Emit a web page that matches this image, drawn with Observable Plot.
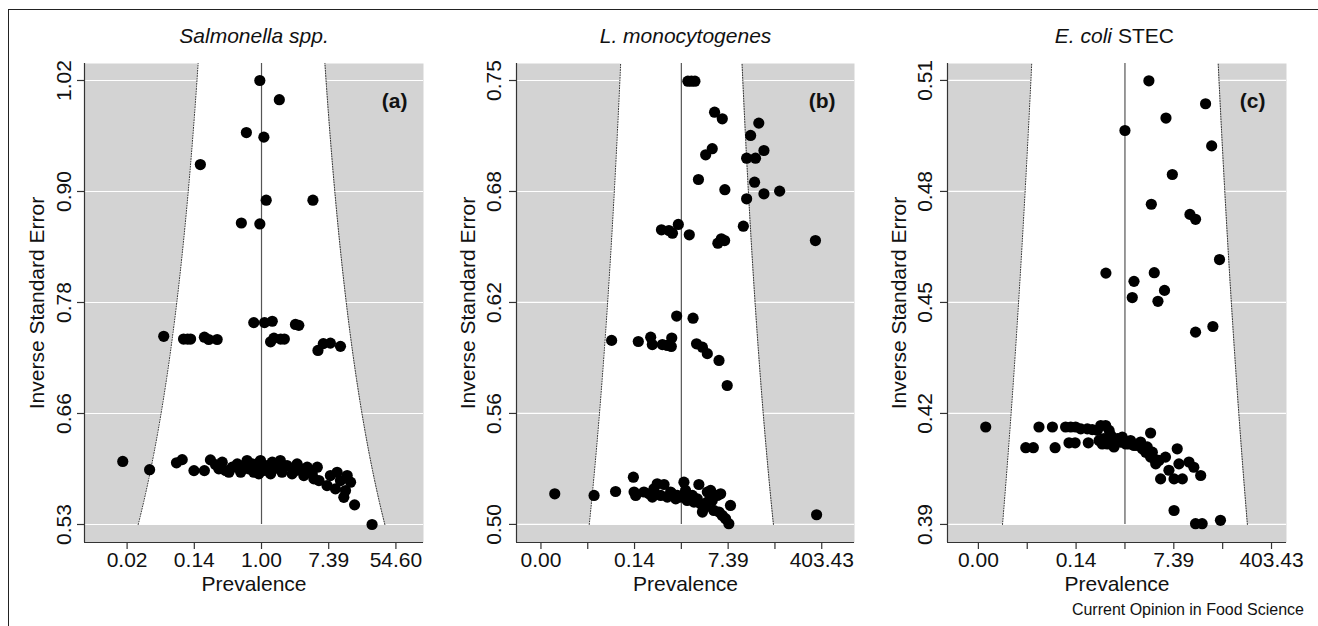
<!DOCTYPE html>
<html><head><meta charset="utf-8">
<script src="https://cdn.jsdelivr.net/npm/d3@7"></script>
<script src="https://cdn.jsdelivr.net/npm/@observablehq/plot@0.6"></script>
<style>
html,body{margin:0;padding:0;background:#fff;font-family:"Liberation Sans",Arial,sans-serif;overflow:hidden;}
#wrap{position:relative;width:1318px;height:626px;overflow:hidden;}
#border{position:absolute;left:8px;top:9px;width:1310px;height:617px;box-sizing:border-box;border-top:1.5px solid #222;border-left:1.5px solid #222;}
.panel{position:absolute;top:0;}
.panel svg{overflow:visible;}
#caption{position:absolute;right:14px;top:601px;font-size:16px;color:#111;white-space:nowrap;}
</style></head>
<body><div id="wrap"><div id="border"></div>
<div class="panel" id="pa" style="left:0px"></div>
<div class="panel" id="pb" style="left:430px"></div>
<div class="panel" id="pc" style="left:870px"></div>
<div id="caption">Current Opinion in Food Science</div></div>
<script>
// ---------- data: log(prevalence) and inverse standard error ----------
const salmonellaLogPrev = [-0.05,0.53,-0.45,0.07,-1.82,0.14,1.53,-0.60,-0.05,
 -2.91,-2.32,-2.20,-2.11,-1.70,-1.57,-1.32,-0.23,0.09,0.32,1.01,1.11,0.27,0.37,0.57,0.68,1.68,1.84,2.05,2.35,
 -4.13,-3.33,-2.53,-2.36,-2.01,-1.70,
 -1.52,-1.37,-1.17,-1.07,-0.87,-0.72,-0.62,-0.43,-0.38,-0.23,-0.13,-0.03,0.07,0.17,0.32,0.47,0.56,0.61,0.76,0.91,1.06,1.16,1.26,1.41,1.56,1.66,1.71,
 2.05,1.95,2.25,2.35,2.55,2.65,2.50,2.20,2.45,2.77,3.29,
 -1.27,-0.97,-0.53,-0.28,-0.08,0.27,0.37,1.01,1.36,1.51];
const salmonellaInvSE = [1.020,0.999,0.963,0.958,0.928,0.889,0.889,0.864,0.863,
 0.740,0.737,0.737,0.737,0.739,0.7365,0.7365,0.755,0.755,0.7565,0.753,0.752,0.734,0.738,0.737,0.737,0.7245,0.732,0.7325,0.729,
 0.603,0.594,0.6015,0.605,0.593,0.593,
 0.6047,0.5996,0.6022,0.5931,0.5967,0.6003,0.5912,0.6040,0.5949,0.5912,0.6003,0.6040,0.5931,0.5985,0.6022,0.5967,0.6040,0.5912,0.5985,0.5894,0.6003,0.5949,0.5876,0.5912,0.5839,0.5967,0.5821,
 0.5876,0.5766,0.5912,0.5821,0.5876,0.5803,0.5712,0.5730,0.5638,0.5555,0.534,
 0.5949,0.5912,0.5985,0.6003,0.5894,0.5894,0.5949,0.5931,0.5967,0.5894];

const listeriaLogPrev = [0.28,0.43,0.58,1.42,1.75,3.31,2.96,1.32,1.04,3.53,2.79,3.17,0.73,1.86,3.13,3.53,4.20,2.79,2.65,-0.85,-0.53,-0.38,-0.13,0.34,1.56,1.71,1.85,5.73,
 -0.20,0.50,-2.98,-1.84,-1.31,-1.24,-0.81,-0.60,-0.43,-0.41,0.65,0.90,1.11,1.61,1.96,
 -5.41,-3.73,-2.81,-2.05,-2.02,-1.95,-1.38,-1.17,-1.03,-0.74,-1.24,-0.88,-0.60,-0.39,-0.24,-0.03,0.11,0.18,0.25,0.47,0.54,0.75,0.82,0.90,1.04,1.11,1.25,1.39,1.54,1.61,1.68,1.75,1.89,2.03,2.10,5.78,
 -1.60,-0.46,-0.17,0.33,0.68,1.11,1.32];
const listeriaInvSE = [0.7456,0.7456,0.7456,0.7283,0.7246,0.7222,0.7153,0.7079,0.7045,0.7069,0.7026,0.7026,0.6907,0.6850,0.6892,0.6827,0.6842,0.6799,0.6646,0.6626,0.6622,0.6607,0.6656,0.6598,0.6551,0.6576,0.6566,0.6566,
 0.6144,0.6132,0.6008,0.6002,0.6026,0.5985,0.5985,0.5980,0.5974,0.6021,0.5989,0.5970,0.5934,0.5896,0.5756,
 0.5151,0.5142,0.5164,0.5244,0.5161,0.5142,0.5151,0.5179,0.5207,0.5203,0.5133,0.5142,0.5133,0.5151,0.5123,0.5133,0.5216,0.5170,0.5114,0.5142,0.5105,0.5203,0.5095,0.5049,0.5077,0.5161,0.5170,0.5058,0.5142,0.5049,0.5151,0.5030,0.5012,0.4984,0.5086,0.5034,
 0.5161,0.5161,0.5142,0.5133,0.5123,0.5105,0.5114];

const ecoliLogPrev = [0.98,3.30,1.68,0.00,3.55,1.94,1.08,2.66,2.89,3.87,-0.78,1.20,0.37,1.62,0.30,1.35,2.89,3.60,
 -5.70,-4.06,-3.75,-3.52,-2.97,-2.86,-2.43,-2.22,-2.02,-1.81,-1.54,-1.34,-1.13,-0.99,-0.79,-0.65,-2.29,-2.04,-1.50,-1.06,-0.93,-0.72,-0.58,-0.45,-0.31,-0.11,0.03,0.17,0.37,0.51,0.64,0.71,0.85,0.98,1.12,1.19,1.26,1.39,1.05,1.66,1.80,2.14,2.21,2.62,2.82,3.10,1.46,2.01,2.35,2.01,2.89,3.16,3.91,
 -0.86,-0.52,-0.18,0.23,0.91,1.05];
const ecoliInvSE = [0.5089,0.5028,0.4990,0.4957,0.4916,0.4840,0.4761,0.4734,0.4721,0.4614,0.4578,0.4579,0.4556,0.4532,0.4513,0.4503,0.4421,0.4436,
 0.4169,0.4114,0.4114,0.4169,0.4169,0.4114,0.4169,0.4169,0.4169,0.4164,0.4164,0.4162,0.4160,0.4173,0.4173,0.4160,0.4127,0.4127,0.4127,0.4133,0.4124,0.4124,0.4147,0.4116,0.4138,0.4142,0.4124,0.4124,0.4120,0.4120,0.4129,0.4111,0.4102,0.4098,0.4102,0.4085,0.4071,0.4080,0.4153,0.4089,0.4054,0.4111,0.4071,0.4076,0.4062,0.4040,0.4031,0.4031,0.4031,0.3947,0.3912,0.3912,0.3921,
 0.4138,0.4129,0.4129,0.4133,0.4116,0.4089];

// pooled estimates (log scale)
const pooledEstimates = [0, 0, 0];

// axis ticks (log prevalence) and labels
const xTicksA = [-4, -2, 0, 2, 4];
const xLabelsA = ["0.02", "0.14", "1.00", "7.39", "54.60"];
const xTicksBC = [-6, -4, -2, 0, 2, 4, 6];
const xLabelsBC = ["0.00", "", "0.14", "", "7.39", "", "403.43"];
const yTicksA = [0.534, 0.6555, 0.777, 0.8985, 1.020];
const yLabelsA = ["0.53", "0.66", "0.78", "0.90", "1.02"];
const yTicksB = [0.498, 0.560, 0.622, 0.684, 0.746];
const yLabelsB = ["0.50", "0.56", "0.62", "0.68", "0.75"];
const yTicksC = [0.391, 0.4205, 0.450, 0.4795, 0.509];
const yLabelsC = ["0.39", "0.42", "0.45", "0.48", "0.51"];

const xLims = [[-5.268, 4.821], [-7.045, 7.40], [-7.264, 6.613]];
const yLims = [[0.5143, 1.0386], [0.4879, 0.7555], [0.3862, 0.5135]];

const FONT = "Liberation Sans, Arial, Helvetica, sans-serif";
const H = 626, MT = 63, MB = 84;

function panel(cfg) {
  const {el, width, ml, mr, k, xs, ys, xTicks, xLabels, yTicks, yLabels, letter, letterDx, yTickDx, yTitleDx, titleMarks} = cfg;
  const xDomain = xLims[k], yDomain = yLims[k], c = pooledEstimates[k];
  const frameW = width - ml - mr, frameH = H - MT - MB;
  const ylo = yTicks[0], ytop = yDomain[1];
  const funnel = d3.range(61).map(i => {
    const y = ylo + (ytop - ylo) * i / 60;
    return {y, lo: c - 1.96 / y, hi: c + 1.96 / y};
  });
  const pts = xs.map((x, i) => ({x, y: ys[i]}));
  const chart = Plot.plot({
    width, height: H, marginLeft: ml, marginRight: mr, marginTop: MT, marginBottom: MB,
    x: {domain: xDomain, axis: null},
    y: {domain: yDomain, axis: null},
    style: {fontFamily: FONT, fontSize: "21px", background: "transparent", overflow: "visible", color: "#111"},
    marks: [
      Plot.frame({fill: "#d3d3d3", stroke: "none"}),
      Plot.ruleY(yTicks, {stroke: "white", strokeWidth: 1.2}),
      Plot.areaX(funnel, {y: "y", x1: "lo", x2: "hi", fill: "white"}),
      Plot.line(funnel, {x: "lo", y: "y", stroke: "#333", strokeWidth: 1, strokeDasharray: "1,1.6"}),
      Plot.line(funnel, {x: "hi", y: "y", stroke: "#333", strokeWidth: 1, strokeDasharray: "1,1.6"}),
      Plot.ruleX([c], {y1: ylo, y2: ytop, stroke: "#555", strokeWidth: 1.2}),
      Plot.dot(pts, {x: "x", y: "y", r: 5.6, fill: "black", stroke: "none"}),
      Plot.ruleX([xDomain[0]], {stroke: "#333", strokeWidth: 1.2}),
      Plot.ruleY([yDomain[0]], {stroke: "#333", strokeWidth: 1.2}),
      Plot.tickY(yTicks, {insetLeft: -7, insetRight: frameW, stroke: "#333", strokeWidth: 1.2}),
      Plot.tickX(xTicks, {insetTop: frameH, insetBottom: -7, stroke: "#333", strokeWidth: 1.2}),
      Plot.text(yTicks, {y: d => d, text: (d, i) => yLabels[i], frameAnchor: "left", rotate: -90, dx: yTickDx, textAnchor: "middle", lineAnchor: "bottom", fontSize: 21}),
      Plot.text(xTicks, {x: d => d, text: (d, i) => xLabels[i], frameAnchor: "bottom", dy: 10, textAnchor: "middle", lineAnchor: "top", fontSize: 21}),
      Plot.text(["Prevalence"], {text: d => d, frameAnchor: "bottom", dy: 34, lineAnchor: "top", fontSize: 21}),
      Plot.text(["Inverse Standard Error"], {text: d => d, frameAnchor: "left", rotate: -90, dx: yTitleDx, textAnchor: "middle", lineAnchor: "bottom", fontSize: 21}),
      Plot.text([letter], {text: d => d, frameAnchor: "top-right", dx: letterDx, dy: 44, textAnchor: "end", lineAnchor: "bottom", fontWeight: "bold", fontSize: 21}),
      ...titleMarks
    ]
  });
  document.getElementById(el).appendChild(chart);
}

panel({el: "pa", width: 430, ml: 84, mr: 7, k: 0, xs: salmonellaLogPrev, ys: salmonellaInvSE,
  xTicks: xTicksA, xLabels: xLabelsA, yTicks: yTicksA, yLabels: yLabelsA,
  letter: "(a)", letterDx: -16, yTickDx: -14, yTitleDx: -41,
  titleMarks: [Plot.text(["Salmonella spp."], {text: d => d, frameAnchor: "top", dy: -21, lineAnchor: "bottom", fontStyle: "italic", fontSize: 21})]});

panel({el: "pb", width: 440, ml: 86, mr: 16, k: 1, xs: listeriaLogPrev, ys: listeriaInvSE,
  xTicks: xTicksBC, xLabels: xLabelsBC, yTicks: yTicksB, yLabels: yLabelsB,
  letter: "(b)", letterDx: -19, yTickDx: -16, yTitleDx: -42,
  titleMarks: [Plot.text(["L. monocytogenes"], {text: d => d, frameAnchor: "top", dy: -21, lineAnchor: "bottom", fontStyle: "italic", fontSize: 21})]});

panel({el: "pc", width: 448, ml: 77, mr: 32, k: 2, xs: ecoliLogPrev, ys: ecoliInvSE,
  xTicks: xTicksBC, xLabels: xLabelsBC, yTicks: yTicksC, yLabels: yLabelsC,
  letter: "(c)", letterDx: -21, yTickDx: -16, yTitleDx: -42,
  titleMarks: [
    Plot.text(["E. coli"], {text: d => d, frameAnchor: "top", dx: -5, dy: -21, textAnchor: "end", lineAnchor: "bottom", fontStyle: "italic", fontSize: 21}),
    Plot.text(["STEC"], {text: d => d, frameAnchor: "top", dx: 1, dy: -21, textAnchor: "start", lineAnchor: "bottom", fontSize: 21})
  ]});
</script>
</body></html>
